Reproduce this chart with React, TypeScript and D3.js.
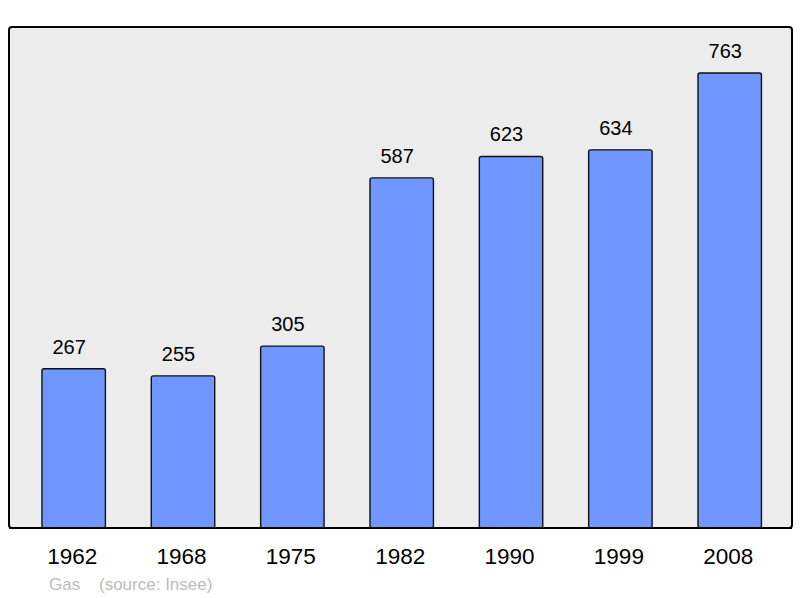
import * as d3 from 'd3';
import { useRef, useEffect } from 'react';

// DATA
const years = ['1962', '1968', '1975', '1982', '1990', '1999', '2008'];
const population = [267, 255, 305, 587, 623, 634, 763];
const footerName = 'Gas';
const footerSource = '(source: Insee)';

function App() {
  const svgRef = useRef<SVGSVGElement>(null);
  const width = 800;
  const height = 598;
  const frame = { left: 9, top: 27, right: 792, bottom: 528 };

  useEffect(() => {
    const svg = d3.select(svgRef.current);
    svg.selectAll('*').remove();

    const xScale = d3
      .scaleBand()
      .domain(years)
      .range([19, 784.4])
      .paddingInner(0.42)
      .paddingOuter(0.21);

    const yScale = d3
      .scaleLinear()
      .domain([0, 840])
      .range([frame.bottom, frame.top]);

    // Background frame
    svg
      .append('rect')
      .attr('x', frame.left)
      .attr('y', frame.top)
      .attr('width', frame.right - frame.left)
      .attr('height', frame.bottom - frame.top)
      .attr('rx', 3)
      .attr('fill', '#ececec')
      .attr('stroke', '#000')
      .attr('stroke-width', 2);

    // Bars
    svg
      .append('g')
      .selectAll('rect')
      .data(population)
      .join('rect')
      .attr('x', (d, i) => xScale(years[i]) as number)
      .attr('y', (d) => yScale(d))
      .attr('width', xScale.bandwidth())
      .attr('height', (d) => frame.bottom - yScale(d))
      .attr('rx', 2)
      .attr('fill', '#7097ff')
      .attr('stroke', '#111')
      .attr('stroke-width', 1.4);

    // Frame bottom line redrawn over bars
    svg
      .append('line')
      .attr('x1', frame.left)
      .attr('x2', frame.right)
      .attr('y1', frame.bottom)
      .attr('y2', frame.bottom)
      .attr('stroke', '#000')
      .attr('stroke-width', 2);

    // Value labels (sit a little left of the bar centre)
    svg
      .append('g')
      .selectAll('text')
      .data(population)
      .join('text')
      .text((d) => d)
      .attr('x', (d, i) => (xScale(years[i]) as number) + xScale.bandwidth() / 2 - 4.5)
      .attr('y', (d) => yScale(d) - 15)
      .attr('text-anchor', 'middle')
      .attr('font-family', 'Liberation Sans, Arial, sans-serif')
      .attr('font-size', '20px')
      .attr('fill', '#000');

    // Year labels
    svg
      .append('g')
      .selectAll('text')
      .data(years)
      .join('text')
      .text((d) => d)
      .attr('x', (d) => (xScale(d) as number) + xScale.bandwidth() / 2 - 1.5)
      .attr('y', 564)
      .attr('text-anchor', 'middle')
      .attr('font-family', 'Liberation Sans, Arial, sans-serif')
      .attr('font-size', '22.5px')
      .attr('fill', '#000');

    // Footer
    const footer = svg
      .append('text')
      .attr('x', 49)
      .attr('y', 590)
      .attr('font-family', 'Liberation Sans, Arial, sans-serif')
      .attr('font-size', '17px')
      .attr('fill', '#bbbbbb');
    footer.append('tspan').text(footerName);
    footer.append('tspan').attr('x', 99).text(footerSource);
  }, []);

  return (
    <svg
      ref={svgRef}
      width={width}
      height={height}
      style={{ position: 'absolute', left: 0, top: 0 }}
    />
  );
}

export default App;
